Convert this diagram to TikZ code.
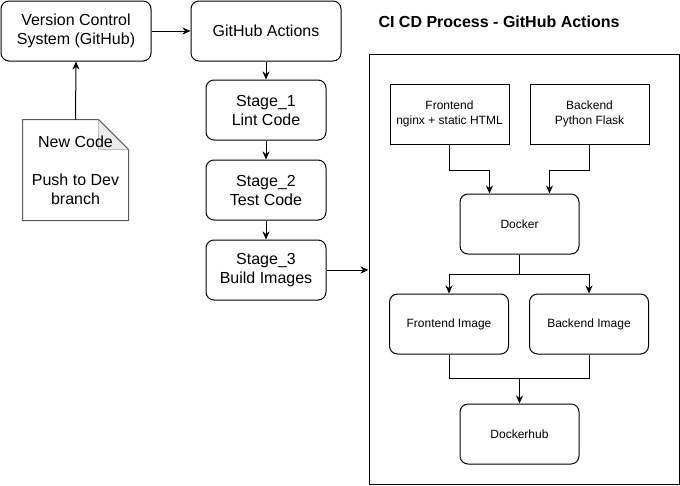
\documentclass[tikz,border=0pt]{standalone}
\usepackage{fontspec}
\setmainfont{Liberation Sans}
\usetikzlibrary{arrows.meta}

\begin{document}
\begin{tikzpicture}[x=1pt, y=-1pt, line width=1pt,
	big/.style={font=\fontsize{16}{19}\selectfont, align=center},
	small/.style={font=\fontsize{12}{14.5}\selectfont, align=center},
	stagebox/.style={big, draw, rounded corners=8pt, minimum width=120pt, minimum height=60pt, inner sep=0pt},
	topbox/.style={stagebox, minimum width=150pt},
	srcbox/.style={small, draw, minimum width=119pt, minimum height=60pt, inner sep=0pt},
	imgbox/.style={srcbox, rounded corners=8pt},
	arr/.style={-{Stealth[length=8pt, width=7pt, inset=2.5pt]}}]

	\fill[white] (0,0) rectangle (680,485);

	%left column
	\node[topbox] (vcs) at (76,31) {Version Control\\System (GitHub)};
	\node[topbox] (gha) at (266,31) {GitHub Actions};
	\node[stagebox] (stage1) at (266,110) {Stage\_1\\Lint Code};
	\node[stagebox] (stage2) at (266,190) {Stage\_2\\Test Code};
	\node[stagebox] (stage3) at (266,270) {Stage\_3\\Build Images};

	%document
	\node[minimum width=105pt, minimum height=100pt, inner sep=0pt] (newcode) at (75.5,170) {};
	\draw[color=black!65] (newcode.south west) -- (newcode.north west) -- ([xshift=-30pt]newcode.north east)
		-- ([yshift=-30pt]newcode.north east) -- (newcode.south east) -- cycle;
	\draw[draw=black!25, fill=black!8] ([xshift=-30pt]newcode.north east) -- ([xshift=-30pt, yshift=-30pt]newcode.north east)
		-- ([yshift=-30pt]newcode.north east);
	\draw[color=black!65] ([xshift=-30pt]newcode.north east) -- ([yshift=-30pt]newcode.north east);
	\node[big] (newcodetext) at (newcode) {New Code\\\mbox{}\\Push to Dev\\branch};

	\draw[arr] (newcode.north) -- (vcs.south);
	\draw[arr] (vcs) -- (gha);
	\foreach \a/\b in {gha/stage1, stage1/stage2, stage2/stage3}
		\draw[arr] (\a.south) -- (\b.north);

	%container
	\node[font=\fontsize{16}{19}\selectfont\bfseries] (title) at (499,22) {CI CD Process - GitHub Actions};
	\node[draw, minimum width=310pt, minimum height=430pt, inner sep=0pt] (cicd) at (524,269) {};
	\draw[arr] (stage3) -- (stage3 -| cicd.west);

	\begin{scope}[shift={(369,54)}]

	\node[srcbox] (frontend) at (80.5,60) {Frontend\\nginx + static HTML};
	\node[srcbox] (backend) at (220.5,60) {Backend\\Python Flask};
	\node[imgbox] (docker) at (150.5,170) {Docker};
	\node[imgbox] (feimg) at (80,270) {Frontend Image};
	\node[imgbox] (beimg) at (220,270) {Backend Image};
	\node[imgbox] (dockerhub) at (150.5,380) {Dockerhub};

	\draw[arr] (frontend.south) -- ++(0,26) -| ([xshift=-30pt]docker.north);
	\draw[arr] (backend.south) -- ++(0,26) -| ([xshift=30pt]docker.north);

	\path (docker.south) ++(0,20) coordinate (split);
	\draw (docker.south) -- (split);
	\draw[arr] (split) -| (feimg.north);
	\draw[arr] (split) -| (beimg.north);

	\path (dockerhub.north) ++(0,-25) coordinate (join);
	\draw (feimg.south) |- (join) -| (beimg.south);
	\draw[arr] (join) -- (dockerhub.north);
	\end{scope}
\end{tikzpicture}
\end{document}
